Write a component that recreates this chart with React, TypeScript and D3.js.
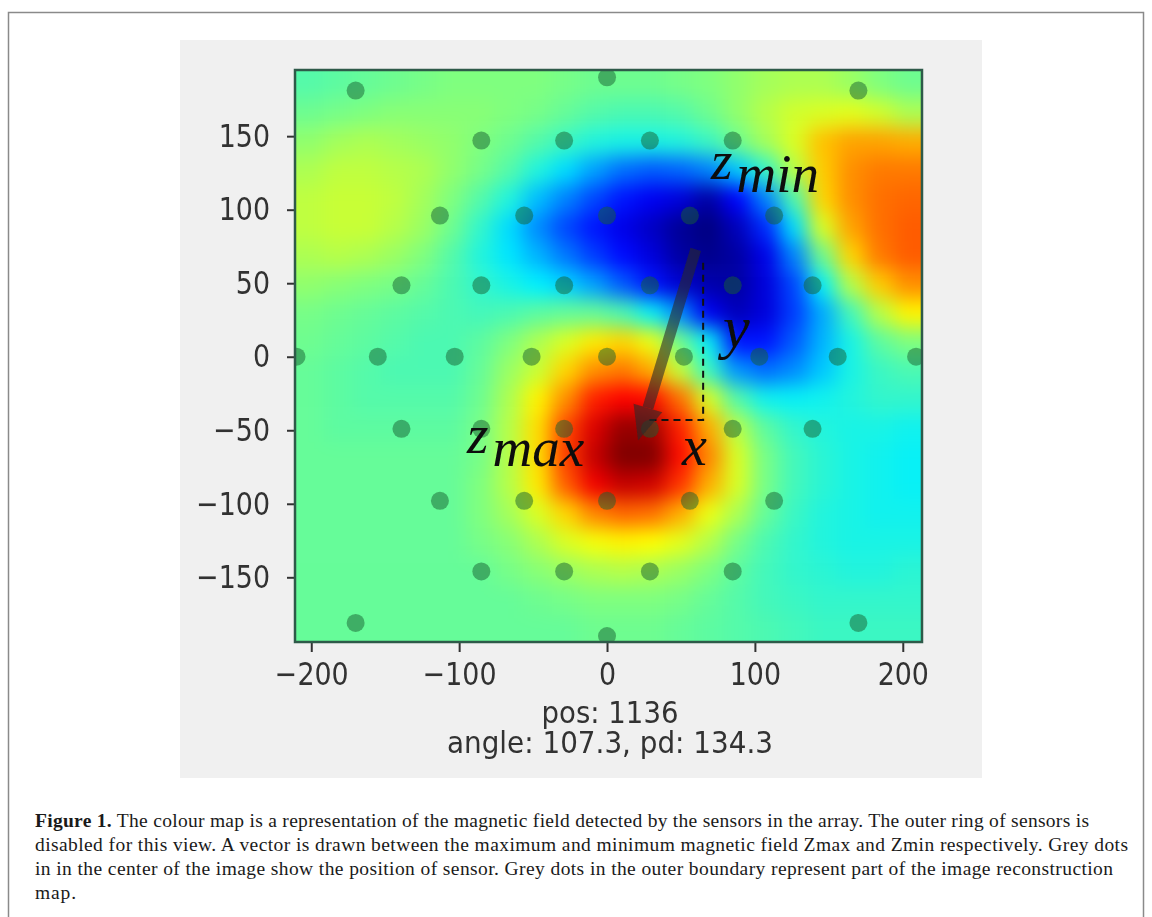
// App.tsx
import React, { useEffect, useRef } from 'react';
import * as d3 from 'd3';

// field, jet fraction x 100, top row first
const fieldRows = [
  [45, 46, 47, 48, 49, 50, 50, 50, 50, 49, 48, 48, 48, 49, 50, 52, 54, 55, 55, 53, 50, 48],
  [48, 49, 50, 51, 51, 51, 51, 50, 49, 47, 45, 44, 44, 45, 48, 52, 56, 59, 60, 61, 59, 55],
  [52, 54, 55, 54, 53, 52, 50, 48, 45, 42, 39, 38, 38, 39, 42, 48, 54, 60, 70, 73, 73, 72],
  [55, 57, 57, 56, 55, 52, 49, 45, 39, 33, 27, 22, 20, 21, 24, 31, 41, 56, 69, 75, 77, 77],
  [57, 58, 58, 57, 54, 50, 45, 39, 30, 24, 18, 13, 10, 8, 3, 11, 24, 44, 68, 75, 78, 79],
  [57, 58, 58, 56, 53, 48, 41, 33, 25, 18, 13, 9, 6, 2, 0, 5, 15, 33, 60, 73, 78, 80],
  [55, 56, 55, 53, 50, 45, 39, 34, 29, 23, 17, 12, 8, 3, 1, 3, 9, 24, 48, 68, 77, 80],
  [52, 51, 50, 49, 47, 44, 41, 38, 35, 32, 27, 20, 13, 7, 4, 3, 8, 18, 36, 56, 69, 75],
  [49, 48, 47, 46, 45, 44, 43, 44, 46, 47, 47, 44, 36, 25, 10, 5, 8, 17, 28, 43, 56, 65],
  [48, 47, 46, 45, 44, 44, 46, 50, 55, 60, 66, 68, 62, 48, 36, 13, 13, 20, 29, 38, 46, 50],
  [47, 46, 45, 44, 44, 44, 47, 53, 58, 68, 75, 77, 72, 58, 42, 26, 22, 25, 31, 38, 42, 44],
  [47, 46, 45, 45, 45, 45, 48, 55, 65, 75, 86, 89, 88, 78, 60, 45, 37, 36, 37, 39, 41, 41],
  [47, 46, 46, 46, 46, 46, 49, 56, 67, 82, 92, 98, 97, 86, 72, 56, 46, 41, 39, 38, 38, 37],
  [47, 47, 47, 47, 47, 47, 49, 56, 67, 83, 94, 100, 100, 88, 76, 60, 49, 43, 40, 38, 37, 36],
  [47, 47, 47, 47, 47, 47, 50, 56, 66, 80, 90, 94, 93, 84, 72, 60, 49, 43, 40, 38, 37, 36],
  [47, 47, 47, 47, 47, 47, 50, 54, 60, 68, 76, 79, 78, 72, 62, 55, 47, 42, 39, 38, 37, 37],
  [47, 47, 47, 47, 47, 47, 49, 51, 55, 60, 63, 65, 64, 61, 56, 49, 44, 41, 39, 38, 38, 38],
  [47, 47, 47, 47, 47, 47, 47, 49, 51, 53, 55, 56, 55, 53, 50, 46, 43, 41, 40, 39, 39, 40],
  [47, 47, 47, 47, 47, 47, 47, 47, 48, 49, 50, 50, 50, 49, 47, 45, 43, 42, 41, 41, 41, 41],
  [47, 47, 47, 47, 47, 47, 47, 47, 47, 47, 48, 48, 48, 47, 46, 45, 44, 43, 42, 42, 42, 42],
];

const jetStops = [0, 11, 35, 50, 64, 89, 100];
const jetColors = ['#000080', '#0000ff', '#00f0ff', '#7fff7f', '#ffff00', '#ff0000', '#7f0000'];

const xTicks = [-200, -100, 0, 100, 200];
const yTicks = [150, 100, 50, 0, -50, -100, -150];

// sensor positions, grouped by row
const sensorRows = [
  { y: 181, xs: [-170, 170] },
  { y: 190, xs: [0] },
  { y: 147, xs: [-85, -29, 29, 85] },
  { y: 96, xs: [-113, -56, 0, 56, 113] },
  { y: 48.6, xs: [-139, -85, -29, 29, 85, 139] },
  { y: 0, xs: [-210, -155, -103, -51, 0, 52, 103, 156, 209] },
  { y: -49, xs: [-139, -85, -29, 29, 85, 139] },
  { y: -98, xs: [-113, -56, 0, 56, 113] },
  { y: -146, xs: [-85, -29, 29, 85] },
  { y: -181, xs: [-170, 170] },
  { y: -190, xs: [0] },
];

const vectorLine = [[60, 73], [21, -57]];
const dashLine = [[65, 64], [65, -43], [26, -43]];

const footer = ['pos: 1136', 'angle: 107.3, pd: 134.3'];
const footerWidths = [137, 326];
const captionLines = [
  ' The colour map is a representation of the magnetic field detected by the sensors in the array. The outer ring of sensors is',
  'disabled for this view. A vector is drawn between the maximum and minimum magnetic field Zmax and Zmin respectively. Grey dots',
  'in in the center of the image show the position of sensor. Grey dots in the outer boundary represent part of the image reconstruction',
  'map.',
];
const captionEnds = [1089, 1128, 1113, 76];

const App = () => {
  const svgRef = useRef<SVGSVGElement>(null);

  useEffect(() => {
    const svg = d3.select(svgRef.current);
    svg.selectAll('*').remove();

    const left = 295, right = 922, top = 70, bottom = 642;
    const xScale = d3.scaleLinear().domain([-211, 213]).range([left, right]);
    const yScale = d3.scaleLinear().domain([195, -194]).range([top, bottom]);
    const colX = d3.scaleBand<number>().domain(d3.range(fieldRows[0].length)).range([left, right]);
    const rowY = d3.scaleBand<number>().domain(d3.range(fieldRows.length)).range([top, bottom]);
    const jet = d3.scaleLinear<string>().domain(jetStops).range(jetColors);

    const defs = svg.append('defs');
    defs.append('clipPath').attr('id', 'plot-clip').append('rect')
      .attr('x', left).attr('y', top).attr('width', right - left).attr('height', bottom - top);
    defs.append('filter').attr('id', 'field-blur')
      .attr('filterUnits', 'userSpaceOnUse')
      .attr('x', left - 100).attr('y', top - 100)
      .attr('width', right - left + 200).attr('height', bottom - top + 200)
      .attr('color-interpolation-filters', 'sRGB')
      .append('feGaussianBlur').attr('stdDeviation', 10);
    defs.append('filter').attr('id', 'soft')
      .append('feGaussianBlur').attr('stdDeviation', 0.7);

    // frame and panel
    svg.append('rect').attr('x', 180).attr('y', 40).attr('width', 802).attr('height', 738).attr('fill', '#f0f0f0');
    svg.append('path').attr('d', 'M8.5,917V12.5H1143.5V917').attr('fill', 'none').attr('stroke', '#8a8a8a').attr('stroke-width', 1.5);

    // field
    const field = svg.append('g').attr('clip-path', 'url(#plot-clip)')
      .append('g').attr('filter', 'url(#field-blur)');
    const lastCol = fieldRows[0].length - 1;
    const lastRow = fieldRows.length - 1;
    const pad = 60;
    fieldRows.forEach((row, j) => {
      field.selectAll(`.cell-${j}`)
        .data(row)
        .enter()
        .append('rect')
        .attr('x', (_, i) => colX(i)! - (i === 0 ? pad : 0))
        .attr('y', rowY(j)! - (j === 0 ? pad : 0))
        .attr('width', (_, i) => colX.bandwidth() + 0.5 + (i === 0 || i === lastCol ? pad : 0))
        .attr('height', rowY.bandwidth() + 0.5 + (j === 0 || j === lastRow ? pad : 0))
        .attr('fill', d => jet(d));
    });

    // sensors
    const marks = svg.append('g').attr('clip-path', 'url(#plot-clip)');
    const sensors = sensorRows.flatMap(r => r.xs.map(x => [x, r.y]));
    marks.append('g').attr('filter', 'url(#soft)')
      .selectAll('circle')
      .data(sensors)
      .enter()
      .append('circle')
      .attr('cx', d => xScale(d[0]))
      .attr('cy', d => yScale(d[1]))
      .attr('r', 9)
      .attr('fill', '#1a6030')
      .attr('opacity', 0.5);

    // dashed x / y legs
    const line = d3.line<number[]>().x(d => xScale(d[0])).y(d => yScale(d[1]));
    marks.append('path')
      .attr('d', line(dashLine))
      .attr('fill', 'none')
      .attr('stroke', '#111')
      .attr('stroke-width', 2)
      .attr('stroke-dasharray', '7,5');

    // vector from Zmin to Zmax
    const x0 = xScale(vectorLine[0][0]), y0 = yScale(vectorLine[0][1]);
    const x1 = xScale(vectorLine[1][0]), y1 = yScale(vectorLine[1][1]);
    const len = Math.hypot(x1 - x0, y1 - y0);
    const ux = (x1 - x0) / len, uy = (y1 - y0) / len;
    const headLen = 34, headHalf = 15;
    const bx = x1 - ux * headLen, by = y1 - uy * headLen;
    const arrow = marks.append('g').attr('opacity', 0.6).attr('filter', 'url(#soft)');
    arrow.append('path')
      .attr('d', `M${x0},${y0}L${bx},${by}`)
      .attr('stroke', '#2a2a2a').attr('stroke-width', 11).attr('fill', 'none');
    arrow.append('path')
      .attr('d', `M${x1},${y1}L${bx - uy * headHalf},${by + ux * headHalf}L${bx + uy * headHalf},${by - ux * headHalf}Z`)
      .attr('fill', '#2a2a2a');

    // math labels
    const mathLabel = (px: number, py: number, base: string, sub: string, size: number) => {
      const t = svg.append('text')
        .attr('x', px).attr('y', py)
        .attr('font-family', '"Liberation Serif", serif')
        .attr('font-style', 'italic')
        .attr('font-size', size)
        .attr('fill', '#0a0a0a')
        .attr('filter', 'url(#soft)');
      t.append('tspan').text(base);
      if (sub) t.append('tspan').attr('dx', 4).attr('dy', 13).text(sub);
    };
    mathLabel(711, 179, 'z', 'min', 55);
    mathLabel(467, 453, 'z', 'max', 55);
    mathLabel(723, 347, 'y', '', 60);
    mathLabel(682, 465, 'x', '', 56);

    // axes
    const axisFont = '"DejaVu Sans", sans-serif';
    const axes = svg.append('g').attr('filter', 'url(#soft)');
    const xAxis = axes.append('g')
      .attr('transform', `translate(0,${bottom})`)
      .call(d3.axisBottom(xScale).tickValues(xTicks).tickSize(10).tickPadding(10));
    const yAxis = axes.append('g')
      .attr('transform', `translate(${left},0)`)
      .call(d3.axisLeft(yScale).tickValues(yTicks).tickSize(8).tickPadding(17));
    [xAxis, yAxis].forEach(a => {
      a.select('.domain').remove();
      a.selectAll('.tick line').attr('stroke', '#333').attr('stroke-width', 2);
      a.selectAll<SVGTextElement, number>('.tick text')
        .attr('font-family', axisFont)
        .attr('font-size', 32)
        .attr('fill', '#333')
        .each(function () {
          // the source image is squeezed sideways
          const w = this.getComputedTextLength();
          d3.select(this).attr('textLength', w * 0.84).attr('lengthAdjust', 'spacingAndGlyphs');
        });
    });
    axes.append('path')
      .attr('d', `M${left},${bottom}V${top}H${right}V${bottom}Z`)
      .attr('fill', 'none').attr('stroke', '#2f5a4a').attr('stroke-width', 2.5);

    axes.selectAll('.footer')
      .data(footer)
      .enter()
      .append('text')
      .attr('x', 610)
      .attr('y', (_, i) => 723 + i * 30)
      .attr('text-anchor', 'middle')
      .attr('font-family', axisFont)
      .attr('font-size', 30)
      .attr('fill', '#333')
      .attr('textLength', (_, i) => footerWidths[i])
      .attr('lengthAdjust', 'spacingAndGlyphs')
      .text(d => d);

    // caption
    const caption = svg.append('g')
      .attr('font-family', '"Liberation Serif", serif')
      .attr('font-size', 19.5)
      .attr('fill', '#1a1a1a');
    captionLines.forEach((txt, i) => {
      const t = caption.append('text')
        .attr('x', 35)
        .attr('y', 827 + i * 24)
        .attr('textLength', captionEnds[i] - 35)
        .attr('lengthAdjust', 'spacing');
      if (i === 0) t.append('tspan').attr('font-weight', 'bold').text('Figure 1.');
      t.append('tspan').text(txt);
    });
  }, []);

  return (
    <svg
      ref={svgRef}
      width={1152}
      height={917}
      style={{ position: 'absolute', left: 0, top: 0, display: 'block', background: '#fff' }}
    />
  );
};

export default App;
